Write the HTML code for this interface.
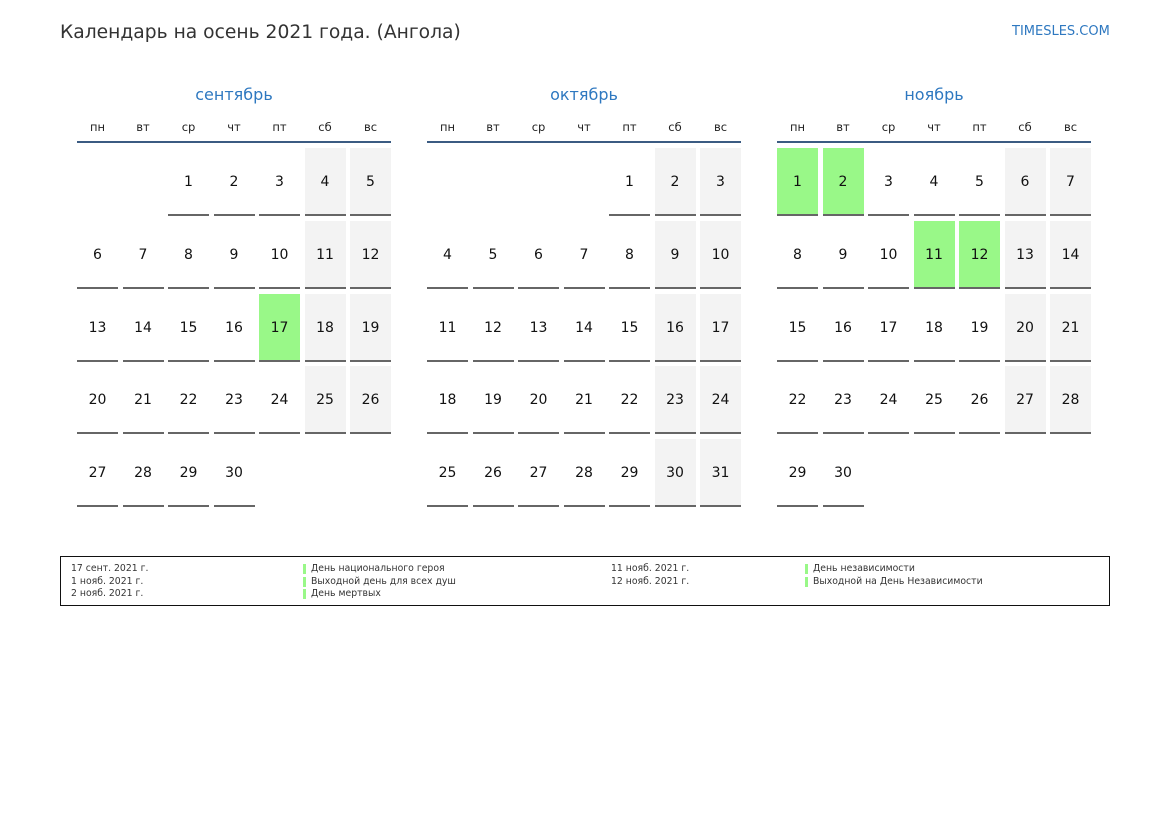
<!DOCTYPE html>
<html><head><meta charset="utf-8"><style>
body{margin:0;width:1169px;height:827px;background:#fff;font-family:"DejaVu Sans","Liberation Sans",sans-serif;position:relative;overflow:hidden}
.a{position:absolute;white-space:nowrap}
.m{position:absolute;top:82px;width:314px}
.t{text-align:center;color:#2e78c0;font-size:16px;height:26px;line-height:26px}
.h{display:grid;grid-template-columns:repeat(7,41px);column-gap:4.5px;font-size:11.5px;color:#222;text-align:center;height:33px;line-height:38px;border-bottom:2px solid #3b5b82}
.g{display:grid;grid-template-columns:repeat(7,41px);column-gap:4.5px;row-gap:4.75px;margin-top:5px}
.g div{height:66px;line-height:68px;text-align:center;font-size:14px;color:#111;border-bottom:2px solid #666}
.g div.e{border-bottom:2px solid transparent}
.g div.w{background:#f3f3f3}
.g div.x{background:#99f888}
.lg{position:absolute;left:60px;top:556px;width:1048px;height:48px;border:1px solid #111}
.l{position:absolute;font-size:9.3px;color:#333;line-height:12.5px}
.b{position:absolute;width:3px;height:10px;background:#99f888}
</style></head><body>
<div class="a" style="left:60px;top:22px;font-size:18.7px;color:#333">Календарь на осень 2021 года. (Ангола)</div>
<div class="a" style="left:1012px;top:24px;font-size:13px;color:#2e78c0">TIMESLES.COM</div>

<div class="m" style="left:77px"><div class="t">сентябрь</div>
<div class="h"><span>пн</span><span>вт</span><span>ср</span><span>чт</span><span>пт</span><span>сб</span><span>вс</span></div>
<div class="g">
<div class="e"></div><div class="e"></div><div>1</div><div>2</div><div>3</div><div class="w">4</div><div class="w">5</div>
<div>6</div><div>7</div><div>8</div><div>9</div><div>10</div><div class="w">11</div><div class="w">12</div>
<div>13</div><div>14</div><div>15</div><div>16</div><div class="x">17</div><div class="w">18</div><div class="w">19</div>
<div>20</div><div>21</div><div>22</div><div>23</div><div>24</div><div class="w">25</div><div class="w">26</div>
<div>27</div><div>28</div><div>29</div><div>30</div><div class="e"></div><div class="e"></div><div class="e"></div>
</div></div>

<div class="m" style="left:427px"><div class="t">октябрь</div>
<div class="h"><span>пн</span><span>вт</span><span>ср</span><span>чт</span><span>пт</span><span>сб</span><span>вс</span></div>
<div class="g">
<div class="e"></div><div class="e"></div><div class="e"></div><div class="e"></div><div>1</div><div class="w">2</div><div class="w">3</div>
<div>4</div><div>5</div><div>6</div><div>7</div><div>8</div><div class="w">9</div><div class="w">10</div>
<div>11</div><div>12</div><div>13</div><div>14</div><div>15</div><div class="w">16</div><div class="w">17</div>
<div>18</div><div>19</div><div>20</div><div>21</div><div>22</div><div class="w">23</div><div class="w">24</div>
<div>25</div><div>26</div><div>27</div><div>28</div><div>29</div><div class="w">30</div><div class="w">31</div>
</div></div>

<div class="m" style="left:777px"><div class="t">ноябрь</div>
<div class="h"><span>пн</span><span>вт</span><span>ср</span><span>чт</span><span>пт</span><span>сб</span><span>вс</span></div>
<div class="g">
<div class="x">1</div><div class="x">2</div><div>3</div><div>4</div><div>5</div><div class="w">6</div><div class="w">7</div>
<div>8</div><div>9</div><div>10</div><div class="x">11</div><div class="x">12</div><div class="w">13</div><div class="w">14</div>
<div>15</div><div>16</div><div>17</div><div>18</div><div>19</div><div class="w">20</div><div class="w">21</div>
<div>22</div><div>23</div><div>24</div><div>25</div><div>26</div><div class="w">27</div><div class="w">28</div>
<div>29</div><div>30</div><div class="e"></div><div class="e"></div><div class="e"></div><div class="e"></div><div class="e"></div>
</div></div>

<div class="lg">
<div class="l" style="left:10px;top:6px">17 сент. 2021 г.<br>1 нояб. 2021 г.<br>2 нояб. 2021 г.</div>
<div class="b" style="left:242px;top:7px"></div><div class="b" style="left:242px;top:20px"></div><div class="b" style="left:242px;top:32px"></div>
<div class="l" style="left:250px;top:6px">День национального героя<br>Выходной день для всех душ<br>День мертвых</div>
<div class="l" style="left:550px;top:6px">11 нояб. 2021 г.<br>12 нояб. 2021 г.</div>
<div class="b" style="left:744px;top:7px"></div><div class="b" style="left:744px;top:20px"></div>
<div class="l" style="left:752px;top:6px">День независимости<br>Выходной на День Независимости</div>
</div>
</body></html>
